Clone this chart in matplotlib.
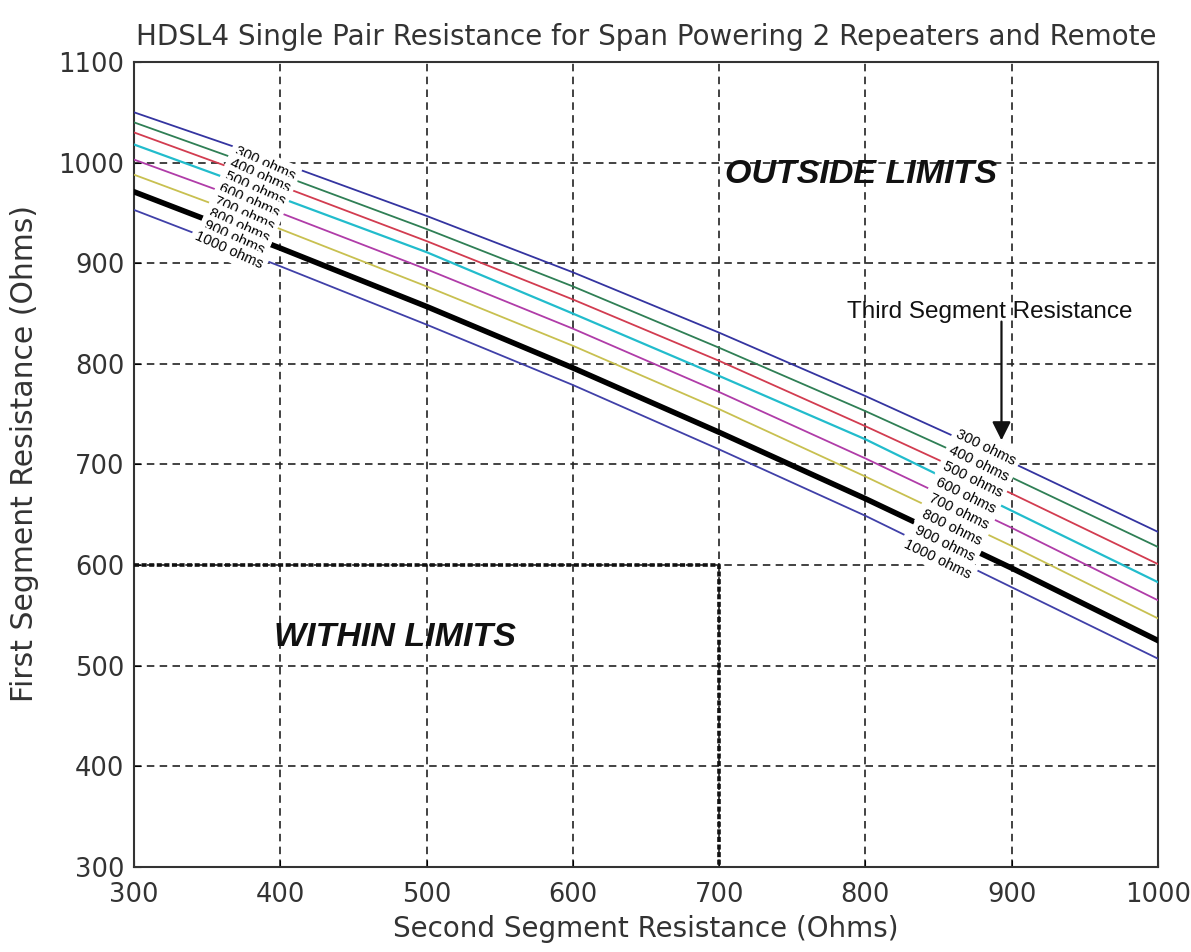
import numpy as np
import matplotlib.pyplot as plt

# second segment resistance (x) and first segment limit for each third segment value
second_seg = [300, 400, 500, 600, 700, 800, 900, 1000]
third_seg = [300, 400, 500, 600, 700, 800, 900, 1000]

first_300 = [1050, 1000, 947, 891, 831, 768, 702, 633]
first_400 = [1040, 988, 934, 877, 816, 753, 687, 618]
first_500 = [1030, 977, 922, 864, 803, 738, 671, 601]
first_600 = [1018, 965, 911, 850, 788, 725, 654, 583]
first_700 = [1003, 950, 894, 835, 772, 706, 637, 565]
first_800 = [988, 934, 877, 818, 755, 688, 619, 547]
first_900 = [971, 915, 857, 796, 732, 666, 597, 525]
first_1000 = [953, 897, 839, 779, 715, 649, 578, 507]

curves = [first_300, first_400, first_500, first_600,
          first_700, first_800, first_900, first_1000]
colors = ['#3434a0', '#2f7f55', '#d23c50', '#22bccc',
          '#b03ca8', '#c8c050', '#000000', '#4040a8']
widths = [1.3, 1.3, 1.3, 1.6, 1.3, 1.3, 4.0, 1.3]

# box bounding the "within limits" region
limit_x = [300, 700, 700]
limit_y = [600, 600, 300]

fig = plt.figure(figsize=(11.91, 9.52), dpi=100)
ax = fig.add_axes([0.1125, 0.0893, 0.8598, 0.8456])

for vals, c, w in zip(curves, colors, widths):
    ax.plot(second_seg, vals, color=c, lw=w, zorder=3)

ax.plot(limit_x, limit_y, color='#111111', lw=2.6, ls=(0, (1.4, 0.7)), zorder=4)

ax.set_xlim(300, 1000)
ax.set_ylim(300, 1100)
ax.set_xticks(np.arange(300, 1001, 100))
ax.set_yticks(np.arange(300, 1101, 100))
ax.grid(True, color='#222222', lw=1.2, ls=(0, (4.5, 3.2)))
ax.tick_params(direction='in', length=5, labelsize=18.5, pad=7)
ax.tick_params(axis='x', pad=11)
for lbl in ax.get_xticklabels() + ax.get_yticklabels():
    lbl.set_color('#333333')
for s in ax.spines.values():
    s.set_linewidth(1.5)
    s.set_color('#333333')

ax.set_title('HDSL4 Single Pair Resistance for Span Powering 2 Repeaters and Remote',
             fontsize=20, color='#333333', pad=12)
ax.set_xlabel('Second Segment Resistance (Ohms)', fontsize=20, color='#333333', labelpad=5)
ax.set_ylabel('First Segment Resistance (Ohms)', fontsize=21.5, color='#333333', labelpad=14)
ax.yaxis.set_label_coords(-0.093, 0.514)

bold = dict(fontsize=24.5, fontweight='bold', fontstyle='italic',
            family='Liberation Sans', color='#111111')
ax.text(704, 988, 'OUTSIDE LIMITS', ha='left', va='center', **bold)
ax.text(396, 528, 'WITHIN LIMITS', ha='left', va='center', **bold)

# stacked ohm labels in two spots along the curves
box = dict(facecolor='white', edgecolor='none', pad=3)
left_x = np.linspace(389.5, 365, len(third_seg))
left_y = np.linspace(999, 913, len(third_seg))
right_x = np.linspace(882.5, 849.5, len(third_seg))
right_y = np.linspace(717, 606, len(third_seg))
for r, lx, ly, rx, ry in zip(third_seg, left_x, left_y, right_x, right_y):
    ax.text(lx, ly, f'{r} ohms', rotation=-24, ha='center', va='center',
            rotation_mode='anchor', fontsize=10.5, family='Liberation Sans',
            bbox=box, zorder=5)
    ax.text(rx, ry, f'{r} ohms', rotation=-26, ha='center', va='center',
            rotation_mode='anchor', fontsize=10.5, family='Liberation Sans',
            bbox=box, zorder=5)

ax.text(885, 851.5, 'Third Segment Resistance', ha='center', va='center',
        fontsize=17.5, family='Liberation Sans', color='#111111', zorder=6)
ax.annotate('', xy=(893, 724), xytext=(893, 842),
            arrowprops=dict(arrowstyle='-|>', color='#111111', lw=1.6,
                            mutation_scale=28, shrinkA=0, shrinkB=0),
            zorder=6)

fig.savefig('out.png', dpi=100)
